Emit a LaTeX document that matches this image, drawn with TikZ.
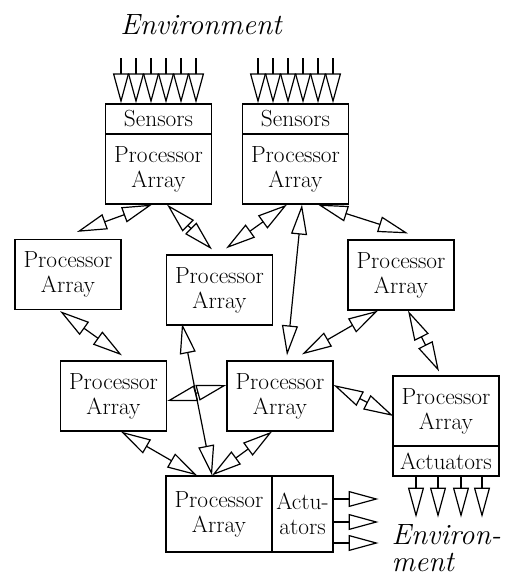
\documentclass[tikz,border=0pt]{standalone}
\usetikzlibrary{arrows.meta,calc}
\begin{document}
\begin{tikzpicture}[x=0.75pt,y=-0.75pt,
  line width=0.9pt,
  >={Triangle[open,length=22.5pt,width=12pt]},
  box/.style={draw,line width=0.9pt,minimum width=79.5pt,minimum height=52.5pt,
    inner sep=0pt,align=center,font=\fontsize{17.5}{18.75}\selectfont},
  strip/.style={box,minimum height=22.5pt},
  env/.style={font=\fontsize{22}{20.25}\selectfont\itshape,inner sep=0pt},
  link/.style={<->},
  feed/.style={->}]
\useasboundingbox (0,0) rectangle (506,577);

% labels for the outside world
\node[env] (envTop) at (201,24.5) {Environment};
\node[env,align=left,anchor=north west] (envBot) at (391,524) {Environ-\\ment};

% sensing units
\node[strip] (sA) at (158.5,119) {Sensors};
\node[box]   (pA) at (158.5,169) {Processor\\Array};
\node[strip] (sB) at (295.5,119) {Sensors};
\node[box]   (pB) at (295.5,169) {Processor\\Array};

% inner processor arrays
\node[box] (C) at (68,274.5)  {Processor\\Array};
\node[box] (D) at (219.5,290) {Processor\\Array};
\node[box] (E) at (401,275)   {Processor\\Array};
\node[box] (F) at (113.5,396) {Processor\\Array};
\node[box] (G) at (280,396)   {Processor\\Array};

% acting units
\node[box]   (pH) at (446,411) {Processor\\Array};
\node[strip] (aH) at (446,461) {Actuators};
\node[box,minimum height=57pt] (pI) at (219,514) {Processor\\Array};
\node[box,minimum height=57pt,minimum width=45.75pt] (aI) at (302.5,514) {Actu-\\ators};

% inputs from the environment
\foreach \n in {sA,sB}
  \foreach \dx in {-37.5,-22.5,-7.5,7.5,22.5,37.5}
    \draw[feed] ($(\n.north)+(\dx,-45)$) -- ($(\n.north)+(\dx,0)$);

% outputs to the environment
\foreach \dx in {-30,-8,15,36}
  \draw[feed] ($(aH.south)+(\dx,0)$) -- ($(aH.south)+(\dx,41)$);
\foreach \dy in {-15,8,29}
  \draw[feed] ($(aI.east)+(0,\dy)$) -- ($(aI.east)+(45,\dy)$);

% two-way links between arrays
\draw[link] ($(pA.south)+(-6.5,0)$) -- ($(C.north)+(9,-7)$);
\draw[link] ($(pA.south)+(8.5,0)$)  -- ($(D.north)+(-7.5,-5)$);
\draw[link] ($(pB.south)+(-8.5,0)$) -- ($(D.north)+(6.5,-6)$);
\draw[link] ($(pB.south)+(6.5,0)$)  -- ($(G.north)+(7,-5)$);
\draw[link] ($(pB.south)+(22.5,0)$) -- ($(E.north)+(7,-6)$);
\draw[link] ($(E.south)+(-23,0)$)   -- ($(G.north)+(22,-6)$);
\draw[link] ($(E.south)+(7,0)$)     -- ($(pH.north)+(-7,-4)$);
\draw[link] ($(C.south)+(-8,1)$)    -- ($(F.north)+(8.5,-5)$);
\draw[link] ($(D.south)+(-37.5,-2)$) -- ($(pI.north)+(-7,0)$);
\draw[link] ($(F.east)+(0,5)$)      -- ($(G.west)+(0,-11)$);
\draw[link] ($(F.south)+(7.5,0)$)   -- ($(pI.north)+(-22,0)$);
\draw[link] ($(G.south)+(-8,0)$)    -- ($(pI.north)+(-7,0)$);
\draw[link] ($(G.east)+(0,-11)$)    -- ($(pH.west)+(1,5)$);
\end{tikzpicture}
\end{document}
